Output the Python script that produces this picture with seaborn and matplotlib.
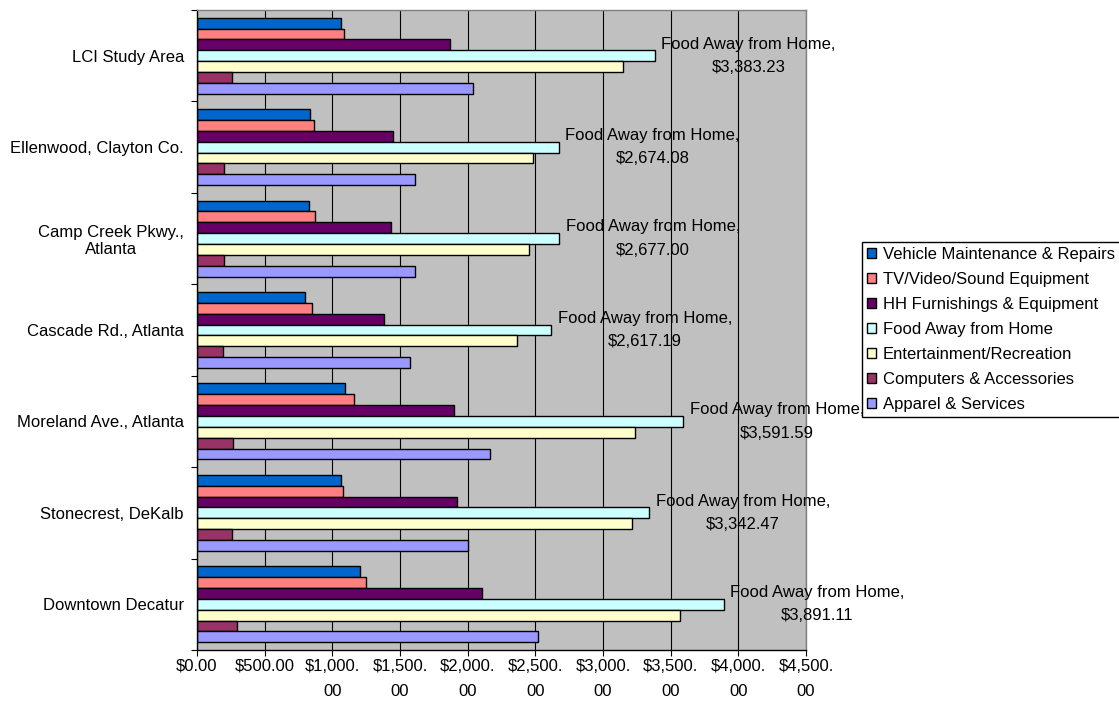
import numpy as np
import pandas as pd
import matplotlib
matplotlib.use("Agg")
import matplotlib.pyplot as plt
import seaborn as sns
from matplotlib.patches import Patch

areas = ["LCI Study Area", "Ellenwood, Clayton Co.", "Camp Creek Pkwy.,\nAtlanta",
         "Cascade Rd., Atlanta", "Moreland Ave., Atlanta", "Stonecrest, DeKalb",
         "Downtown Decatur"]

series_names = ["Vehicle Maintenance & Repairs", "TV/Video/Sound Equipment",
                "HH Furnishings & Equipment", "Food Away from Home",
                "Entertainment/Recreation", "Computers & Accessories",
                "Apparel & Services"]

vehicle = [1061, 835, 824, 801, 1095, 1067, 1201]
tv = [1087, 866, 875, 852, 1157, 1078, 1250]
hh = [1867, 1448, 1431, 1383, 1899, 1923, 2105]
food = [3383.23, 2674.08, 2677.00, 2617.19, 3591.59, 3342.47, 3891.11]
ent = [3146, 2485, 2451, 2366, 3240, 3213, 3569]
comp = [259, 200, 197, 191, 268, 259, 298]
apparel = [2036, 1609, 1612, 1575, 2166, 2002, 2521]

colors = ["#0066CC", "#FF8080", "#660066", "#CCFFFF", "#FFFFCC", "#993366", "#9999FF"]

xticks = [0, 500, 1000, 1500, 2000, 2500, 3000, 3500, 4000, 4500]

rows = []
for name, vals in zip(series_names, [vehicle, tv, hh, food, ent, comp, apparel]):
    for a, v in zip(areas, vals):
        rows.append((a, name, v))
df = pd.DataFrame(rows, columns=["Area", "Category", "Value"])

sns.set_theme(style="white")
plt.rcParams["font.family"] = ["Liberation Sans", "DejaVu Sans"]
plt.rcParams["text.color"] = "black"
plt.rcParams["xtick.color"] = "black"
plt.rcParams["ytick.color"] = "black"
plt.rcParams["xtick.labelcolor"] = "black"
plt.rcParams["ytick.labelcolor"] = "black"

fig = plt.figure(figsize=(11.19, 7.02), dpi=100)
ax = fig.add_axes([197 / 1119, 1 - 650 / 702, (806 - 197) / 1119, (650 - 10) / 702])
ax.set_facecolor("#C0C0C0")

sns.barplot(data=df, y="Area", x="Value", hue="Category", order=areas,
            hue_order=series_names, palette=colors, orient="h", width=0.83,
            edgecolor="black", linewidth=1, saturation=1, errorbar=None,
            legend=False, ax=ax)

ax.set_xlim(0, 4500)
ax.set_ylim(6.5, -0.5)
ax.set_xlabel("")
ax.set_ylabel("")

ax.set_axisbelow(True)
ax.xaxis.grid(True, color="black", linewidth=0.8)
ax.yaxis.grid(False)

for s in ["left", "bottom"]:
    ax.spines[s].set_color("black")
    ax.spines[s].set_linewidth(1)
for s in ["top", "right"]:
    ax.spines[s].set_color("#808080")
    ax.spines[s].set_linewidth(1)


def fmt(v):
    s = f"${v:,.2f}"
    if v >= 1000:
        s = s.replace(".", ".\n")
    return s


ax.set_xticks(xticks)
ax.set_xticklabels([fmt(v) for v in xticks])
ax.tick_params(axis="x", which="major", bottom=True, direction="out", length=4.3,
               width=0.8, color="black", labelcolor="black", labelsize=12, pad=2)
for lbl in ax.get_xticklabels():
    lbl.set_multialignment("center")
    lbl.set_linespacing(1.85)

ax.set_yticks(range(len(areas)))
ax.set_yticklabels(areas)
ax.set_yticks(np.arange(-0.5, len(areas)), minor=True)
ax.tick_params(axis="y", which="major", left=False, length=0, labelsize=12,
               labelcolor="black", pad=9.4)
ax.tick_params(axis="y", which="minor", left=True, direction="out", length=4,
               width=0.8, color="black")
for lbl in ax.get_yticklabels():
    lbl.set_multialignment("center")

for i, v in enumerate(food):
    ax.annotate(f"Food Away from Home,\n${v:,.2f}", xy=(v, i), xytext=(4.7, 0),
                textcoords="offset points", ha="left", va="center",
                multialignment="center", fontsize=12, linespacing=1.7,
                annotation_clip=False, zorder=4, color="black")

handles = [Patch(facecolor=c, edgecolor="black", linewidth=1) for c in colors]
leg = ax.legend(handles, series_names, loc="upper left",
                bbox_to_anchor=(862 / 1119, 1 - 242 / 702),
                bbox_transform=fig.transFigure, frameon=True, fancybox=False,
                edgecolor="black", framealpha=1, facecolor="white", fontsize=12,
                borderaxespad=0, borderpad=0.3, handlelength=0.55, handleheight=0.55,
                handletextpad=0.4, labelspacing=0.6)
leg.get_frame().set_linewidth(1)
leg.set_zorder(10)
for t in leg.get_texts():
    t.set_color("black")

fig.savefig("out.png", dpi=100)
